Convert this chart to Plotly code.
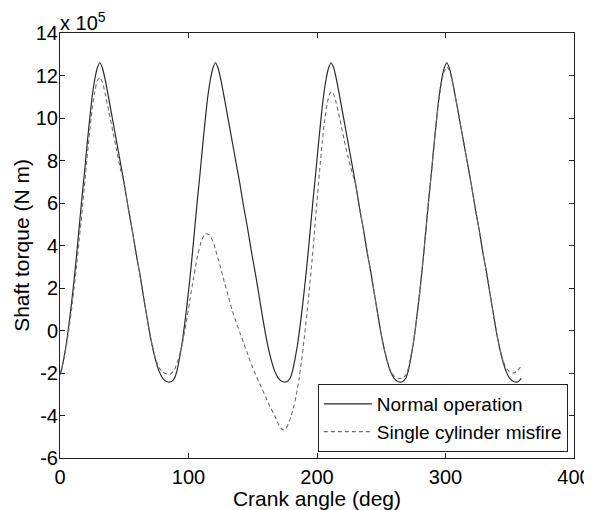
import plotly.graph_objects as go

# Crank angle (deg) and shaft torque (x 10^5 N m)
normal_angle = [0, 1, 3, 5, 7, 9, 11, 13, 15, 17, 19, 21, 23, 25, 27, 29, 31, 33, 35, 38, 41, 44, 47, 50, 53, 56, 59, 62, 65, 68, 71, 74, 77, 80, 83, 86.5,
                89, 91, 93, 95, 97, 99, 101, 103, 105, 107, 109, 111, 113, 115, 117, 119, 121, 123, 125, 128, 131, 134, 137, 140, 143, 146, 149, 152, 155, 158, 161, 164, 167, 170, 173, 176.5,
                179, 181, 183, 185, 187, 189, 191, 193, 195, 197, 199, 201, 203, 205, 207, 209, 211, 213, 215, 218, 221, 224, 227, 230, 233, 236, 239, 242, 245, 248, 251, 254, 257, 260, 263, 266.5,
                269, 271, 273, 275, 277, 279, 281, 283, 285, 287, 289, 291, 293, 295, 297, 299, 301, 303, 305, 308, 311, 314, 317, 320, 323, 326, 329, 332, 335, 338, 341, 344, 347, 350, 353, 356.5, 359]
normal_torque = [-2.07, -1.9, -1.3, -0.6, 0.3, 1.3, 2.4, 3.6, 4.9, 6.2, 7.4, 8.7, 9.9, 11.0, 11.8, 12.35, 12.6, 12.35, 11.85, 10.9, 9.9, 8.9, 7.9, 6.9, 5.8, 4.8, 3.7, 2.7, 1.6, 0.5, -0.5, -1.3, -1.9, -2.25, -2.4, -2.41,
                 -2.25, -1.9, -1.3, -0.6, 0.3, 1.3, 2.4, 3.6, 4.9, 6.2, 7.4, 8.7, 9.9, 11.0, 11.8, 12.35, 12.6, 12.35, 11.85, 10.9, 9.9, 8.9, 7.9, 6.9, 5.8, 4.8, 3.7, 2.7, 1.6, 0.5, -0.5, -1.3, -1.9, -2.25, -2.4, -2.41,
                 -2.25, -1.9, -1.3, -0.6, 0.3, 1.3, 2.4, 3.6, 4.9, 6.2, 7.4, 8.7, 9.9, 11.0, 11.8, 12.35, 12.6, 12.35, 11.85, 10.9, 9.9, 8.9, 7.9, 6.9, 5.8, 4.8, 3.7, 2.7, 1.6, 0.5, -0.5, -1.3, -1.9, -2.25, -2.4, -2.41,
                 -2.25, -1.9, -1.3, -0.6, 0.3, 1.3, 2.4, 3.6, 4.9, 6.2, 7.4, 8.7, 9.9, 11.0, 11.8, 12.35, 12.6, 12.35, 11.85, 10.9, 9.9, 8.9, 7.9, 6.9, 5.8, 4.8, 3.7, 2.7, 1.6, 0.5, -0.5, -1.3, -1.9, -2.25, -2.4, -2.41, -2.25]

misfire_angle = [0, 1, 3, 5, 7, 9, 11, 13, 15, 17, 19, 21, 23, 25, 27, 29, 31, 33, 35, 38, 41, 44, 47, 50, 53, 56, 59, 62, 65, 68, 71, 74, 77, 80, 83, 86,
                 89, 92, 95, 98, 101, 104, 107, 110, 113, 116, 119, 122, 125, 128, 131, 134, 137, 140, 143, 146, 149, 152, 155, 158, 161, 164, 167, 170, 172, 174, 176, 178,
                 180, 182, 184, 186, 188, 190, 192, 194, 196, 198, 200, 202, 204, 206, 208, 210, 211.5, 213, 215, 218, 221, 224, 227, 230, 233, 236, 239, 242, 245, 248, 251, 254, 257, 260, 263, 266.5,
                 269, 271, 273, 275, 277, 279, 281, 283, 285, 287, 289, 291, 293, 295, 297, 299, 301, 303, 305, 308, 311, 314, 317, 320, 323, 326, 329, 332, 335, 338, 341, 344, 347, 350, 353, 356, 358, 360]
misfire_torque = [-2.0, -1.85, -1.35, -0.7, 0.1, 1.0, 2.0, 3.1, 4.3, 5.5, 6.8, 8.1, 9.3, 10.4, 11.2, 11.75, 11.9, 11.7, 11.2, 10.3, 9.4, 8.5, 7.6, 6.9, 5.8, 4.8, 3.7, 2.7, 1.6, 0.5, -0.5, -1.25, -1.75, -1.95, -2.05, -2.05,
                  -1.85, -1.35, -0.7, 0.3, 1.4, 2.5, 3.5, 4.2, 4.55, 4.5, 4.2, 3.6, 2.95, 2.25, 1.6, 0.95, 0.4, -0.1, -0.6, -1.1, -1.6, -2.05, -2.45, -2.85, -3.25, -3.65, -4.0, -4.4, -4.6, -4.68, -4.6, -4.35,
                  -4.0, -3.55, -3.0, -2.3, -1.4, -0.4, 0.7, 1.9, 3.2, 4.6, 6.1, 7.5, 8.8, 9.9, 10.7, 11.15, 11.24, 11.1, 10.7, 9.9, 9.0, 8.2, 7.5, 6.9, 5.8, 4.8, 3.7, 2.7, 1.6, 0.5, -0.5, -1.3, -1.85, -2.15, -2.25, -2.25,
                  -2.1, -1.8, -1.25, -0.55, 0.3, 1.3, 2.4, 3.6, 4.9, 6.2, 7.4, 8.7, 9.9, 10.9, 11.7, 12.2, 12.4, 12.25, 11.8, 10.9, 9.9, 8.9, 7.9, 6.9, 5.8, 4.8, 3.7, 2.7, 1.6, 0.5, -0.5, -1.25, -1.75, -1.95, -2.0, -1.9, -1.75, -1.6]

x_ticks = [0, 100, 200, 300, 400]
y_ticks = [-6, -4, -2, 0, 2, 4, 6, 8, 10, 12, 14]

FONT = "Liberation Sans, Arial, sans-serif"

fig = go.Figure()
fig.add_trace(go.Scatter(
    x=normal_angle, y=normal_torque, mode="lines", name="Normal operation",
    line=dict(color="#2a2a2a", width=1.2, shape="spline", smoothing=0.6),
))
fig.add_trace(go.Scatter(
    x=misfire_angle, y=misfire_torque, mode="lines", name="Single cylinder misfire",
    line=dict(color="#6e6e6e", width=1.1, dash="4px,3px", shape="spline", smoothing=0.6),
))

axis_common = dict(
    showgrid=False, zeroline=False, showline=True, linecolor="#222", linewidth=1,
    mirror="ticks", ticks="inside", ticklen=5, tickcolor="#222", tickwidth=1,
    tickfont=dict(family=FONT, size=20, color="#000"), automargin=False,
    ticklabeloverflow="allow",
)

# page body has an 8px margin; figure sized so the plot area lands where the reference has it
fig.update_layout(
    width=584, height=502,
    margin=dict(l=52, r=18, t=25, b=52),
    paper_bgcolor="white", plot_bgcolor="white",
    font=dict(family=FONT, color="#000"),
    xaxis=dict(range=[0, 400], tickvals=x_ticks, ticktext=[str(v) for v in x_ticks],
               ticklabelstandoff=1,
               title=dict(text="Crank angle (deg)", font=dict(family=FONT, size=21), standoff=12),
               **axis_common),
    yaxis=dict(range=[-6, 14], tickvals=y_ticks, ticktext=[str(v) for v in y_ticks],
               ticklabelstandoff=-3,
               title=dict(text="Shaft torque (N m)", font=dict(family=FONT, size=21), standoff=0),
               **axis_common),
    legend=dict(x=0.988, y=0.014, xanchor="right", yanchor="bottom",
                bordercolor="#222", borderwidth=1, bgcolor="white",
                font=dict(family=FONT, size=19, color="#000"), itemwidth=48,
                tracegroupgap=0),
    showlegend=True,
)
fig.add_annotation(text="x 10<sup>5</sup>", xref="paper", yref="paper", x=0, y=1,
                   xanchor="left", yanchor="bottom", showarrow=False,
                   font=dict(family=FONT, size=20, color="#000"), xshift=-2, yshift=-3)

fig.write_html("out.html")
